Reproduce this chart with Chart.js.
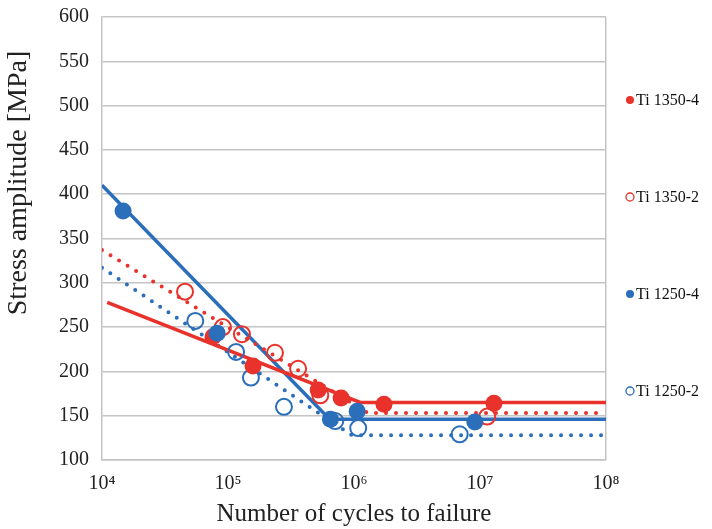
<!DOCTYPE html>
<html>
<head>
<meta charset="utf-8">
<script src="https://cdn.jsdelivr.net/npm/chart.js@4.4.0/dist/chart.umd.min.js"></script>
<style>
  html, body { margin: 0; padding: 0; background: #fff; }
  #wrap { width: 712px; height: 529px; }
</style>
</head>
<body>
<div id="wrap"><canvas id="snChart"></canvas></div>
<script>
"use strict"

// test points, [cycles to failure, stress amplitude MPa]
const ti1350_4 = [[7.6e4, 239], [1.58e5, 206], [5.2e5, 179], [7.9e5, 170], [1.73e6, 163], [1.29e7, 164]];
const ti1350_2 = [[4.56e4, 290], [9.1e4, 250], [1.29e5, 242], [2.36e5, 221], [3.6e5, 203], [5.4e5, 173], [1.14e7, 149]];
const ti1250_4 = [[1.47e4, 381], [8.2e4, 243], [6.5e5, 146], [1.06e6, 155], [9.1e6, 143]];
const ti1250_2 = [[5.5e4, 257], [1.16e5, 222], [1.52e5, 193], [2.78e5, 160], [7.1e5, 144], [1.08e6, 136], [6.9e6, 129]];

// S-N fit curves: sloped part, knee, endurance limit
const fit1350_4 = [[1.1e4, 278], [1.12e6, 165], [1e8, 165]];
const fit1350_2 = [[1e4, 337], [1.29e6, 153], [1e8, 153]];
const fit1250_4 = [[1e4, 410], [6.4e5, 146], [1e8, 146]];
const fit1250_2 = [[1e4, 317], [9.6e5, 128], [1e8, 128]];

const seriesNames = ['Ti 1350-4', 'Ti 1350-2', 'Ti 1250-4', 'Ti 1250-2'];
const xTickValues = [1e4, 1e5, 1e6, 1e7, 1e8];
const xTickLabels = ['10\u2074', '10\u2075', '10\u2076', '10\u2077', '10\u2078'];
const yTitle = 'Stress amplitude [MPa]';

const RED = '#E8322B';
const BLUE = '#2B6EBA';
const SERIF = '"Liberation Serif", "Times New Roman", serif';

function pts(list) {
  return list.map(p => ({x: p[0], y: p[1]}));
}

function pointSet(label, list, color, filled, order) {
  return {
    label: label,
    data: pts(list),
    showLine: false,
    pointRadius: filled ? 8.5 : 8,
    pointBorderWidth: filled ? 0 : 2,
    pointBackgroundColor: filled ? color : 'rgba(0,0,0,0)',
    pointBorderColor: color,
    order: order
  };
}

function fitSet(list, color, dotted) {
  return {
    label: '',
    data: pts(list),
    showLine: true,
    pointRadius: 0,
    borderColor: color,
    borderWidth: dotted ? 4 : 3.5,
    borderDash: dotted ? [0, 10] : [],
    borderCapStyle: dotted ? 'round' : 'butt',
    tension: 0,
    fill: false,
    order: 3
  };
}

// legend column on the right, one entry per test series,
// plus the y axis title which sits above the middle of the axis
const sideLegend = {
  id: 'sideLegend',
  afterDraw(chart) {
    const ctx = chart.ctx;
    const area = chart.chartArea;
    ctx.save();
    ctx.font = '16px ' + SERIF;
    ctx.textBaseline = 'middle';
    seriesNames.forEach((name, i) => {
      const ds = chart.data.datasets[i];
      const x = area.right + 24;
      const y = area.top + 83 + i * 97;
      ctx.beginPath();
      ctx.arc(x, y, 4, 0, Math.PI * 2);
      if (ds.pointBorderWidth === 0) {
        ctx.fillStyle = ds.pointBackgroundColor;
        ctx.fill();
      } else {
        ctx.lineWidth = 1.3;
        ctx.strokeStyle = ds.pointBorderColor;
        ctx.stroke();
      }
      ctx.fillStyle = '#111';
      ctx.fillText(name, x + 6, y + 1);
    });

    ctx.translate(19, area.top + 166);
    ctx.rotate(-Math.PI / 2);
    ctx.font = '28px ' + SERIF;
    ctx.textAlign = 'center';
    ctx.fillStyle = '#222';
    ctx.fillText(yTitle, 0, 0);
    ctx.restore();
  }
};

const ctx = document.getElementById('snChart').getContext('2d');
const snChart = new Chart(ctx, {
  type: 'scatter',
  data: {
    datasets: [
      pointSet(seriesNames[0], ti1350_4, RED, true, 2),
      pointSet(seriesNames[1], ti1350_2, RED, false, 2),
      pointSet(seriesNames[2], ti1250_4, BLUE, true, 1),
      pointSet(seriesNames[3], ti1250_2, BLUE, false, 2),
      fitSet(fit1350_4, RED, false),
      fitSet(fit1350_2, RED, true),
      fitSet(fit1250_4, BLUE, false),
      fitSet(fit1250_2, BLUE, true)
    ]
  },
  options: {
    responsive: true,
    maintainAspectRatio: false,
    animation: false,
    events: [],
    layout: {
      padding: {top: 17, right: 106, left: 6, bottom: 0}
    },
    plugins: {
      legend: {display: false},
      tooltip: {enabled: false}
    },
    scales: {
      x: {
        type: 'logarithmic',
        min: 1e4,
        max: 1e8,
        afterBuildTicks: axis => {
          axis.ticks = xTickValues.map(v => ({value: v}));
        },
        afterFit: axis => {
          axis.height = 69;
          axis.paddingLeft = 0;
          axis.paddingRight = 0;
        },
        ticks: {
          autoSkip: false,
          maxRotation: 0,
          padding: 12,
          color: '#222',
          font: {family: SERIF, size: 20},
          callback: value => xTickLabels[xTickValues.indexOf(value)]
        },
        grid: {
          drawTicks: false,
          lineWidth: 1.5,
          color: c => (c.tick && c.tick.value === 1e8) ? '#c4c4c4' : 'rgba(0,0,0,0)'
        },
        border: {display: true, color: '#c4c4c4', width: 1.5},
        title: {
          display: true,
          text: 'Number of cycles to failure',
          color: '#222',
          font: {family: SERIF, size: 25},
          padding: {top: 0, bottom: 0}
        }
      },
      y: {
        min: 100,
        max: 600,
        afterFit: axis => {
          axis.width = 96;
          axis.paddingTop = 0;
          axis.paddingBottom = 0;
        },
        ticks: {
          stepSize: 50,
          padding: 13,
          color: '#222',
          font: {family: SERIF, size: 20}
        },
        grid: {
          drawTicks: false,
          lineWidth: 1.5,
          color: '#c4c4c4'
        },
        border: {display: true, color: '#c4c4c4', width: 1.5}
      }
    }
  },
  plugins: [sideLegend]
});
</script>
</body>
</html>
